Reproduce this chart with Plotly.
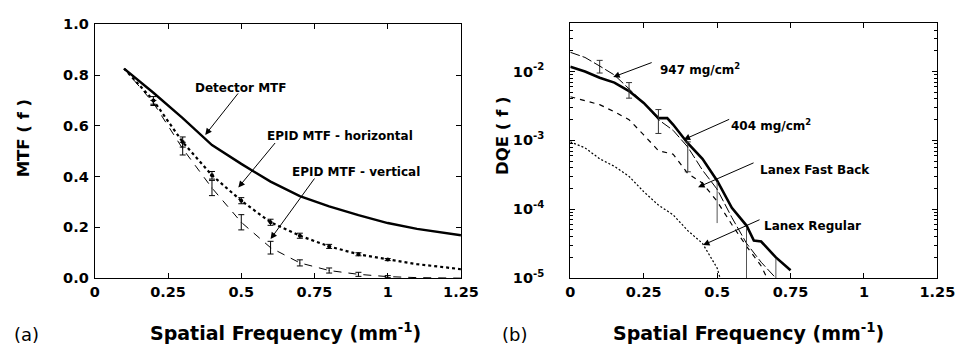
import plotly.graph_objects as go

# ---------------- Panel (a): MTF ----------------
f_det = [0.1, 0.2, 0.3, 0.35, 0.4, 0.5, 0.6, 0.7, 0.8, 0.9, 1.0, 1.1, 1.2, 1.25]
mtf_det = [0.825, 0.73, 0.63, 0.575, 0.524, 0.45, 0.38, 0.323, 0.283, 0.248, 0.217, 0.194, 0.178, 0.169]

f_epid = [0.1, 0.2, 0.3, 0.4, 0.5, 0.6, 0.7, 0.8, 0.9, 1.0, 1.1, 1.2, 1.25]
mtf_h = [0.825, 0.70, 0.536, 0.405, 0.305, 0.22, 0.167, 0.125, 0.094, 0.073, 0.055, 0.042, 0.035]
mtf_v = [0.825, 0.69, 0.51, 0.355, 0.22, 0.12, 0.06, 0.03, 0.015, 0.006, 0.002, 0.0005, 0.0]

f_err = [0.2, 0.3, 0.4, 0.5, 0.6, 0.7, 0.8, 0.9, 1.0]
err_h = [0.015, 0.02, 0.015, 0.012, 0.012, 0.01, 0.008, 0.006, 0.004]
err_v = [0.01, 0.025, 0.03, 0.03, 0.025, 0.012, 0.01, 0.008, 0.004]

# ---------------- Panel (b): DQE ----------------
f_404 = [0, 0.05, 0.1, 0.15, 0.2, 0.25, 0.3, 0.33, 0.35, 0.4, 0.45, 0.5, 0.55, 0.6, 0.625, 0.65, 0.7, 0.75]
dqe_404 = [1.17e-2, 1.0e-2, 8.1e-3, 6.9e-3, 5.2e-3, 3.5e-3, 2.1e-3, 2.1e-3, 1.7e-3, 9.1e-4, 5.4e-4,
           2.6e-4, 1.05e-4, 5.8e-5, 3.5e-5, 3.4e-5, 2.0e-5, 1.3e-5]

f_947 = [0, 0.05, 0.1, 0.15, 0.2, 0.25, 0.3, 0.35, 0.4, 0.45, 0.5, 0.55, 0.6, 0.65, 0.7]
dqe_947 = [1.9e-2, 1.6e-2, 1.2e-2, 8.9e-3, 5.6e-3, 3.5e-3, 2.0e-3, 1.4e-3, 8.0e-4, 3.7e-4, 1.95e-4,
           7.6e-5, 3.2e-5, 1.7e-5, 1.0e-5]

f_fb = [0, 0.05, 0.1, 0.15, 0.2, 0.25, 0.3, 0.35, 0.4, 0.45, 0.5, 0.55, 0.6, 0.65, 0.67]
dqe_fb = [4.3e-3, 3.8e-3, 3.3e-3, 2.6e-3, 2.0e-3, 1.2e-3, 7.1e-4, 6.3e-4, 3.3e-4, 2.4e-4, 1.3e-4,
          6.0e-5, 2.9e-5, 1.5e-5, 1.0e-5]

f_reg = [0, 0.05, 0.1, 0.15, 0.2, 0.25, 0.3, 0.35, 0.4, 0.45, 0.5, 0.51]
dqe_reg = [9.5e-4, 7.8e-4, 5.4e-4, 4.2e-4, 3.0e-4, 1.8e-4, 1.15e-4, 8.3e-5, 4.9e-5, 3.2e-5, 1.4e-5, 1.0e-5]

# error bars on the 947 mg/cm2 curve (top, bottom of each bar)
f_eb1 = [0.1, 0.2, 0.3, 0.4]
eb1_mid = [1.2e-2, 5.6e-3, 2.0e-3, 8.0e-4]
eb1_top = [1.45e-2, 6.9e-3, 2.8e-3, 9.5e-4]
eb1_bot = [9.5e-3, 4.1e-3, 1.26e-3, 3.5e-4]
f_eb2 = [0.5, 0.6, 0.7]
eb2_mid = [1.95e-4, 3.2e-5, 1.0e-5]
eb2_top = [2.5e-4, 5.4e-5, 1.9e-5]
eb2_bot = [6.3e-5, 5e-6, 5e-6]

x_ticks = [0, 0.25, 0.5, 0.75, 1, 1.25]
x_ticktext = ["0", "0.25", "0.5", "0.75", "1", "1.25"]
y_ticks_a = [0, 0.2, 0.4, 0.6, 0.8, 1.0]
y_ticktext_a = ["0.0", "0.2", "0.4", "0.6", "0.8", "1.0"]
y_ticks_b = [1e-5, 1e-4, 1e-3, 1e-2]
y_ticktext_b = ["10<sup>-5</sup>", "10<sup>-4</sup>", "10<sup>-3</sup>", "10<sup>-2</sup>"]

FONT = "DejaVu Sans"
W, H = 972, 352


def px(x):
    return x / W


def py(y):
    return 1 - y / H


fig = go.Figure()

# panel (a)
fig.add_trace(go.Scatter(x=f_det, y=mtf_det, mode="lines", line=dict(color="black", width=2.4),
                         xaxis="x", yaxis="y", showlegend=False))
fig.add_trace(go.Scatter(x=f_epid, y=mtf_h, mode="lines", line=dict(color="black", width=2.2, dash="dot"),
                         xaxis="x", yaxis="y", showlegend=False))
fig.add_trace(go.Scatter(x=f_epid, y=mtf_v, mode="lines", line=dict(color="black", width=1, dash="8px,7px"),
                         xaxis="x", yaxis="y", showlegend=False))
fig.add_trace(go.Scatter(x=f_err, y=[mtf_h[f_epid.index(v)] for v in f_err], mode="markers",
                         marker=dict(color="black", size=4),
                         error_y=dict(type="data", array=err_h, color="black", thickness=1, width=3),
                         xaxis="x", yaxis="y", showlegend=False))
fig.add_trace(go.Scatter(x=f_err, y=[mtf_v[f_epid.index(v)] for v in f_err], mode="markers",
                         marker=dict(color="black", size=1),
                         error_y=dict(type="data", array=err_v, color="black", thickness=1, width=3),
                         xaxis="x", yaxis="y", showlegend=False))

# panel (b)
fig.add_trace(go.Scatter(x=f_947, y=dqe_947, mode="lines", line=dict(color="black", width=1, dash="10px,3px"),
                         xaxis="x2", yaxis="y2", showlegend=False))
fig.add_trace(go.Scatter(x=f_404, y=dqe_404, mode="lines", line=dict(color="black", width=2.6),
                         xaxis="x2", yaxis="y2", showlegend=False))
fig.add_trace(go.Scatter(x=f_fb, y=dqe_fb, mode="lines", line=dict(color="black", width=1.2, dash="5px,5px"),
                         xaxis="x2", yaxis="y2", showlegend=False))
fig.add_trace(go.Scatter(x=f_reg, y=dqe_reg, mode="lines", line=dict(color="black", width=1.2, dash="2px,2px"),
                         xaxis="x2", yaxis="y2", showlegend=False))
fig.add_trace(go.Scatter(x=f_eb1, y=eb1_mid, mode="markers", marker=dict(size=1, color="black"),
                         error_y=dict(type="data", symmetric=False,
                                      array=[t - m for t, m in zip(eb1_top, eb1_mid)],
                                      arrayminus=[m - b for m, b in zip(eb1_mid, eb1_bot)],
                                      color="#333", thickness=1, width=3),
                         xaxis="x2", yaxis="y2", showlegend=False))
fig.add_trace(go.Scatter(x=f_eb2, y=eb2_mid, mode="markers", marker=dict(size=1, color="black"),
                         error_y=dict(type="data", symmetric=False,
                                      array=[t - m for t, m in zip(eb2_top, eb2_mid)],
                                      arrayminus=[m - b for m, b in zip(eb2_mid, eb2_bot)],
                                      color="#555", thickness=1, width=0),
                         xaxis="x2", yaxis="y2", showlegend=False))

tickfont = dict(family=FONT, size=14.5, color="black", weight="bold")
axis_common = dict(showgrid=False, zeroline=False, showline=True, linecolor="black", linewidth=1.3,
                   mirror="ticks", ticks="inside", ticklen=5, tickcolor="black", tickwidth=1,
                   tickfont=tickfont)

fig.update_layout(
    width=W, height=H,
    margin=dict(l=0, r=0, t=0, b=0),
    paper_bgcolor="white", plot_bgcolor="white",
    xaxis=dict(domain=[px(92), px(467)], range=[0, 1.25], anchor="y",
               tickmode="array", tickvals=x_ticks, ticktext=x_ticktext, **axis_common),
    yaxis=dict(domain=[py(283), py(17)], range=[0, 1.0], anchor="x", ticklabelstandoff=2,
               tickmode="array", tickvals=y_ticks_a, ticktext=y_ticktext_a, **axis_common),
    xaxis2=dict(domain=[px(579), px(955)], range=[0, 1.25], anchor="y2",
                tickmode="array", tickvals=x_ticks, ticktext=x_ticktext, **axis_common),
    yaxis2=dict(domain=[py(283), py(16)], type="log", range=[-5, -1.3], anchor="x2",
                tickmode="array", tickvals=y_ticks_b, ticktext=y_ticktext_b, ticklabelstandoff=22,
                minor=dict(ticks="inside", ticklen=3, tickcolor="black", dtick="D1", showgrid=False),
                **axis_common),
)

ann_font = dict(family=FONT, size=12, color="black", weight="bold")
arrows = [
    # (xref, yref, x, y, ax, ay)
    ("x", "y", 0.377, 0.564, 34, -43),
    ("x", "y", 0.49, 0.357, 38, -46),
    ("x", "y", 0.60, 0.154, 45, -62),
    ("x2", "y2", 0.146, -2.08, 40, -15),
    ("x2", "y2", 0.386, -2.99, 47, -21),
    ("x2", "y2", 0.435, -3.68, 57, -25),
    ("x2", "y2", 0.452, -4.52, 58, -26),
]
for xr, yr, x, y, ax, ay in arrows:
    fig.add_annotation(xref=xr, yref=yr, x=x, y=y, ax=ax, ay=ay, text="", showarrow=True,
                       arrowhead=2, arrowsize=1.3, arrowwidth=1, arrowcolor="black")

labels = [
    ("x", "y", 0.50, 0.748, "Detector MTF"),
    ("x", "y", 0.837, 0.56, "EPID MTF - horizontal"),
    ("x", "y", 0.893, 0.417, "EPID MTF - vertical"),
    ("x2", "y2", 0.442, -1.97, "947 mg/cm<sup>2</sup>"),
    ("x2", "y2", 0.685, -2.77, "404 mg/cm<sup>2</sup>"),
    ("x2", "y2", 0.834, -3.43, "Lanex Fast Back"),
    ("x2", "y2", 0.824, -4.25, "Lanex Regular"),
]
for xr, yr, x, y, t in labels:
    fig.add_annotation(xref=xr, yref=yr, x=x, y=y, text=t, showarrow=False, font=ann_font,
                       xanchor="center", yanchor="middle")

title_font = dict(family=FONT, size=19, color="black", weight="bold")
ytitle_font = dict(family=FONT, size=16.5, color="black", weight="bold")
panel_font = dict(family=FONT, size=18, color="black")
paper_texts = [
    (287, 339, "Spatial Frequency (mm<sup>-1</sup>)", 0, title_font),
    (762, 339, "Spatial Frequency (mm<sup>-1</sup>)", 0, title_font),
    (19, 137, "MTF ( f )", -90, ytitle_font),
    (510, 133, "DQE ( f )", -90, ytitle_font),
    (22, 342, "(a)", 0, panel_font),
    (522, 342, "(b)", 0, panel_font),
]
for x, y, t, ang, fnt in paper_texts:
    fig.add_annotation(xref="paper", yref="paper", x=px(x), y=py(y), text=t, textangle=ang,
                       showarrow=False, font=fnt, xanchor="center", yanchor="middle")

fig.write_html("out.html", config={"displayModeBar": False},
               post_script="document.body.style.margin='0';document.body.style.overflow='hidden';")
